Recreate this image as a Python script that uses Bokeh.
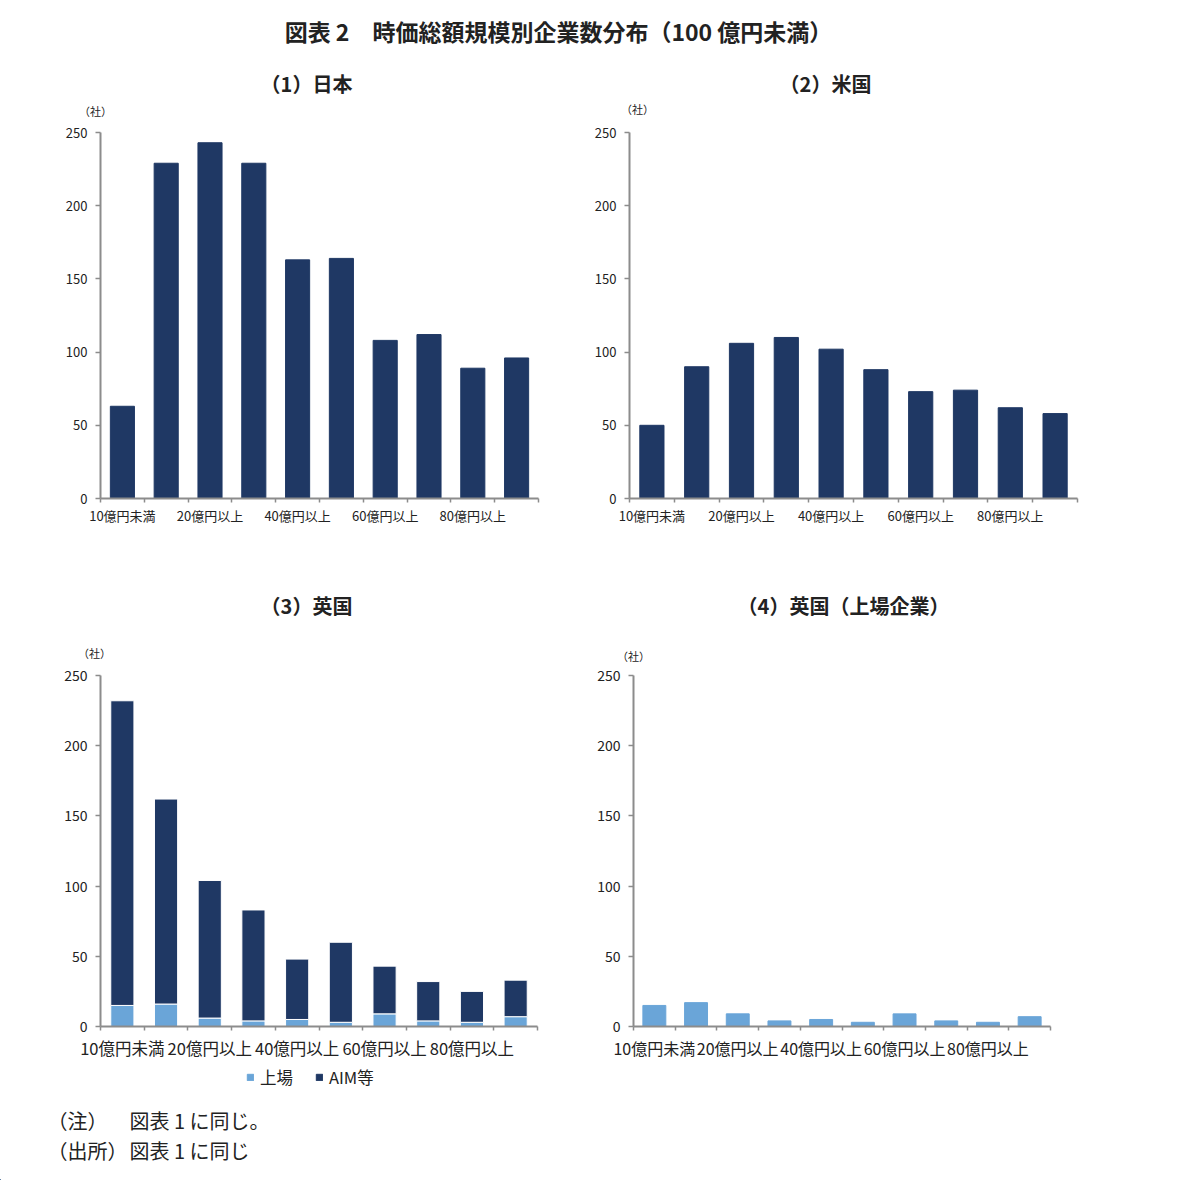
from bokeh.plotting import figure
from bokeh.layouts import column, row
from bokeh.models import FixedTicker, Label, Legend, LegendItem, ColumnDataSource
from bokeh.embed import file_html
from bokeh.resources import INLINE

# ---------------- data ----------------
categories = ["10億円未満", "10億円以上", "20億円以上", "30億円以上", "40億円以上",
              "50億円以上", "60億円以上", "70億円以上", "80億円以上", "90億円以上"]
japan = [63, 229, 243, 229, 163, 164, 108, 112, 89, 96]
us = [50, 90, 106, 110, 102, 88, 73, 74, 62, 58]
uk_listed = [15, 16, 6, 4, 5, 3, 9, 4, 3, 7]
uk_aim = [217, 146, 98, 79, 43, 57, 34, 28, 22, 26]
uk_listed_only = [15, 17, 9, 4, 5, 3, 9, 4, 3, 7]
y_ticks = [0, 50, 100, 150, 200, 250]
series_names = ["上場", "AIM等"]

main_title = "図表 2　時価総額規模別企業数分布（100 億円未満）"
panel_titles = ["（1）日本", "（2）米国", "（3）英国", "（4）英国（上場企業）"]
unit_label = "（社）"
note_heads = ["（注）", "（出所）"]
note_texts = ["図表 1 に同じ。", "図表 1 に同じ"]

NAVY = "#1f3864"
LIGHT = "#6aa5d8"
AXIS = "#8c8c8c"
TXT = "#222222"
FONT = "Noto Sans CJK JP"

xs = [i + 1 for i in range(len(categories))]
shown = {xs[i]: categories[i] for i in range(0, len(categories), 2)}


def make_panel(w, h, left, right, top, bottom, xlab_size, ylab_size, xstand):
    p = figure(width=w, height=h, x_range=(0.5, len(categories) + 0.5), y_range=(0, 250),
               output_backend="svg", toolbar_location=None,
               min_border_left=left, min_border_right=right,
               min_border_top=top, min_border_bottom=bottom)
    p.outline_line_color = None
    p.xgrid.visible = False
    p.ygrid.visible = False
    p.background_fill_color = None
    p.border_fill_color = None
    xa = p.xaxis[0]
    xa.ticker = FixedTicker(ticks=list(shown.keys()),
                            minor_ticks=[x - 0.5 for x in xs] + [xs[-1] + 0.5])
    xa.major_label_overrides = shown
    xa.major_tick_line_color = None
    xa.major_tick_out = 4
    xa.minor_tick_line_color = AXIS
    xa.minor_tick_line_width = 1.5
    xa.minor_tick_out = 4
    xa.minor_tick_in = 0
    xa.axis_line_color = AXIS
    xa.axis_line_width = 2
    xa.major_label_text_font = FONT
    xa.major_label_text_font_size = xlab_size
    xa.major_label_text_color = TXT
    xa.major_label_standoff = xstand
    ya = p.yaxis[0]
    ya.ticker = FixedTicker(ticks=y_ticks)
    ya.minor_tick_line_color = None
    ya.major_tick_line_color = AXIS
    ya.major_tick_line_width = 1.5
    ya.major_tick_out = 5
    ya.major_tick_in = 0
    ya.axis_line_color = AXIS
    ya.axis_line_width = 2
    ya.major_label_text_font = FONT
    ya.major_label_text_font_size = ylab_size
    ya.major_label_text_color = TXT
    ya.major_label_standoff = 8
    return p


def strip(w, h):
    s = figure(width=w, height=h, x_range=(0, w), y_range=(0, h), output_backend="svg",
               toolbar_location=None, min_border=0, x_axis_type=None, y_axis_type=None)
    s.outline_line_color = None
    s.background_fill_color = None
    s.border_fill_color = None
    for g in s.grid:
        g.visible = False
    return s


def text(s, x, y, t, size, bold=False, align="center"):
    s.add_layout(Label(x=x, y=y, text=t, text_align=align, text_baseline="middle",
                       text_font=FONT, text_font_size=size,
                       text_font_style="bold" if bold else "normal", text_color=TXT))


W = 1130

# ---- top strip: main title, subtitles (1)(2), unit labels ----
top = strip(W, 122)
text(top, 558, 92, main_title, "23px", bold=True)
text(top, 306, 39, panel_titles[0], "20px", bold=True)
text(top, 825, 39, panel_titles[1], "20px", bold=True)
text(top, 95, 12, unit_label, "11px")
text(top, 637, 14, unit_label, "11px")

# ---- panel 1: Japan ----
p1 = make_panel(570, 438, 100, 32, 10, 62, "13px", "13px", 3)
p1.vbar(x=xs, top=japan, width=0.55, color=NAVY)

# ---- panel 2: US ----
p2 = make_panel(560, 438, 59, 53, 10, 62, "13px", "13px", 3)
p2.vbar(x=xs, top=us, width=0.54, color=NAVY)

# ---- middle strip: subtitles (3)(4), unit labels ----
mid = strip(W, 102)
text(mid, 306, 57, panel_titles[2], "20px", bold=True)
text(mid, 843, 57, panel_titles[3], "20px", bold=True)
text(mid, 94, 10, unit_label, "11px")
text(mid, 633, 7, unit_label, "11px")

# ---- panel 3: UK stacked ----
src = ColumnDataSource(dict(x=xs, listed=uk_listed, aim=uk_aim))
p3 = make_panel(570, 400, 100, 33, 8, 35, "16.5px", "14px", 5)
p3.vbar_stack(["listed", "aim"], x="x", width=0.53, source=src,
              color=[LIGHT, NAVY], line_color="white", line_width=1)

# ---- panel 4: UK listed only ----
p4 = make_panel(560, 400, 63, 80, 13, 35, "16px", "14px", 5)
p4.vbar(x=xs, top=uk_listed_only, width=0.55, color=LIGHT)

# ---- bottom strip: legend of panel 3, notes ----
bottom = strip(W, 118)
# legend proxies (placed outside the visible range so only their legend glyphs show)
r_listed = bottom.vbar(x=[-100], top=[1], width=1, color=LIGHT)
r_aim = bottom.vbar(x=[-100], top=[1], width=1, color=NAVY)
legend = Legend(items=[LegendItem(label=series_names[0], renderers=[r_listed]),
                       LegendItem(label=series_names[1], renderers=[r_aim])],
                orientation="horizontal", location=(246, 91))
legend.border_line_color = None
legend.background_fill_alpha = 0
legend.glyph_width = 8
legend.glyph_height = 8
legend.label_text_font = FONT
legend.label_text_font_size = "16.5px"
legend.label_text_color = TXT
legend.spacing = 22
legend.padding = 2
legend.margin = 0
legend.label_standoff = 6
bottom.add_layout(legend)
for i, (hd, tx) in enumerate(zip(note_heads, note_texts)):
    yy = 60 - 30 * i
    text(bottom, 47, yy, hd, "20px", align="left")
    text(bottom, 129, yy, tx, "20px", align="left")

layout = column(top, row(p1, p2), mid, row(p3, p4), bottom)
open("out.html", "w").write(file_html(layout, INLINE))
